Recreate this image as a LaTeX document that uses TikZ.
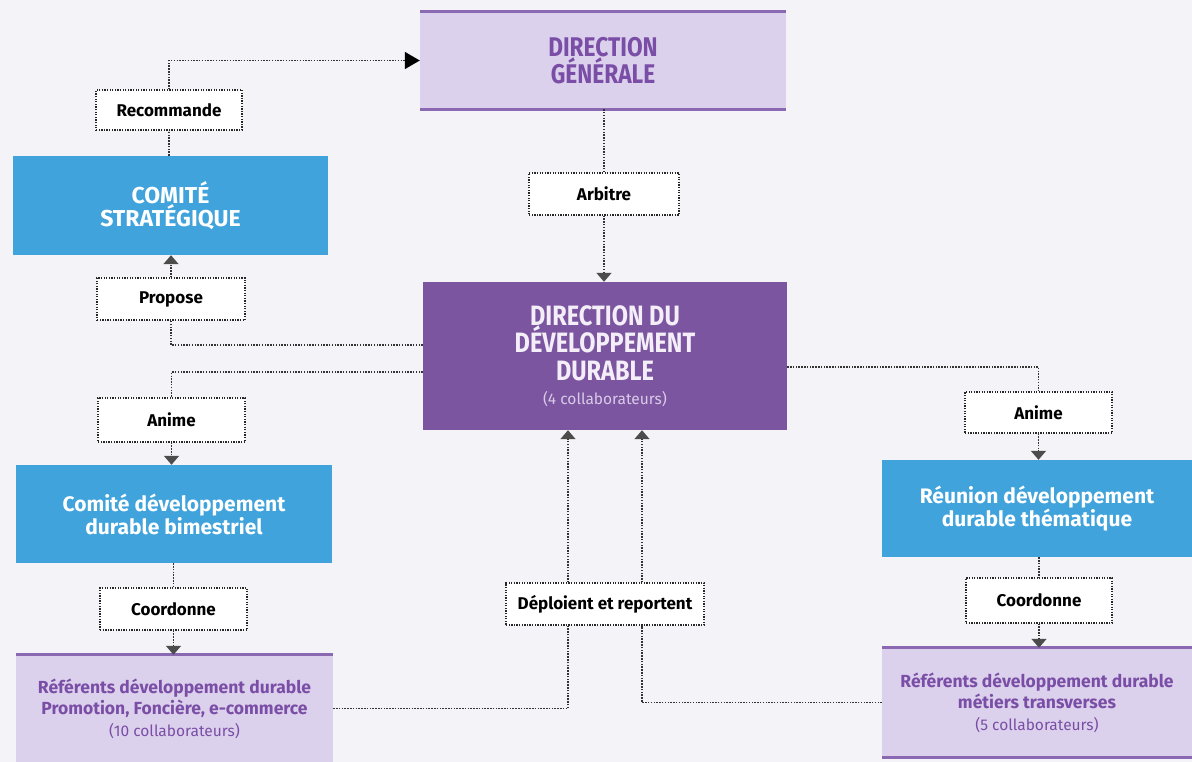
\documentclass[tikz,border=0pt]{standalone}
\usepackage{fontspec}
\setmainfont{Fira Sans}
\newfontfamily\capsfont{Fira Sans}[FakeStretch=0.84]
\usetikzlibrary{arrows.meta}

\definecolor{bgc}{HTML}{F4F3F7}
\definecolor{lav}{HTML}{DCD1EC}
\definecolor{lavline}{HTML}{8A68B2}
\definecolor{purp}{HTML}{7B559F}
\definecolor{purptext}{HTML}{7A4EA6}
\definecolor{blu}{HTML}{40A3DB}
\definecolor{paletext}{HTML}{F3EEF8}
\definecolor{smalltext}{HTML}{D9CAE8}

\tikzset{
  boxbase/.style={inner sep=0pt, align=center},
  bluebox/.style={boxbase, fill=blu, text=white},
  lavbox/.style={boxbase, fill=lav, text=purptext},
  darkbox/.style={boxbase, fill=purp, text=paletext},
  tag/.style={fill=white, draw=black!85, line width=1.2pt,
    dash pattern=on 1.3pt off 1.3pt, minimum width=147pt, minimum height=42pt,
    inner sep=0pt, font=\bfseries\fontsize{17}{19}\selectfont, text=black},
  conn/.style={draw=black!80, line width=1.6pt, dash pattern=on 1.5pt off 1.3pt},
  tip/.style={-{Triangle[length=9pt,width=15pt,fill=black!70,color=black!70]}},
  bigtip/.style={-{Triangle[length=15pt,width=17pt,fill=black,color=black]}},
  edge/.style={lavline, line width=3pt},
}

\begin{document}
\begin{tikzpicture}[x=1pt,y=-1pt]
  \fill[bgc] (0,0) rectangle (1192,762);
  \useasboundingbox (0,0) rectangle (1192,762);

  % top management
  \node[lavbox, minimum width=366pt, minimum height=97pt,
        font=\capsfont\bfseries\fontsize{27}{27}\selectfont] (dg) at (603,60.5) {DIRECTION\\GÉNÉRALE};
  \draw[edge] (dg.north west) -- (dg.north east);
  \draw[edge] (dg.south west) -- (dg.south east);

  % sustainability department
  \node[darkbox, minimum width=364pt, minimum height=148pt,
        font=\capsfont\bfseries\fontsize{28}{27.5}\selectfont] (ddd) at (605,356)
        {DIRECTION DU\\DÉVELOPPEMENT\\DURABLE\\[-3pt]{\normalfont\mdseries\fontsize{15.5}{17}\selectfont\color{smalltext}(4 collaborateurs)}};

  % left column
  \node[bluebox, minimum width=315pt, minimum height=99pt,
        font=\bfseries\fontsize{23}{23.5}\selectfont] (cs) at (170.5,205.5) {COMITÉ\\STRATÉGIQUE};
  \node[bluebox, minimum width=316pt, minimum height=98pt,
        font=\bfseries\fontsize{21}{23}\selectfont] (cd) at (174,514) {Comité développement\\durable bimestriel};
  \node[lavbox, minimum width=317pt, minimum height=107pt,
        font=\bfseries\fontsize{17.5}{21.5}\selectfont] (refl) at (174.5,708.5)
        {Référents développement durable\\Promotion, Foncière, e-commerce\\{\mdseries\fontsize{15.5}{19}\selectfont(10 collaborateurs)}};
  \draw[edge] (refl.north west) -- (refl.north east);

  % right column
  \node[bluebox, minimum width=310pt, minimum height=97pt,
        font=\bfseries\fontsize{21}{23}\selectfont] (reu) at (1037,508.5) {Réunion développement\\durable thématique};
  \node[lavbox, minimum width=310pt, minimum height=109pt,
        font=\bfseries\fontsize{17.5}{21.5}\selectfont] (refr) at (1037,702.5)
        {Référents développement durable\\métiers transverses\\{\mdseries\fontsize{15.5}{19}\selectfont(5 collaborateurs)}};
  \draw[edge] (refr.north west) -- (refr.north east);
  \draw[edge] (refr.south west) -- (refr.south east);

  % relation labels
  \node[tag, minimum width=146pt, minimum height=40pt] (reco) at (169,110) {Recommande};
  \node[tag, minimum width=150pt] (arb) at (604,194) {Arbitre};
  \node[tag, minimum width=148pt] (prop) at (171,299) {Propose};
  \node[tag, minimum height=44pt] (animl) at (171.5,420) {Anime};
  \node[tag] (coordl) at (173.5,609) {Coordonne};
  \node[tag, minimum width=198pt] (dep) at (605,604) {Déploient et reportent};
  \node[tag, minimum height=41pt] (animr) at (1038.5,412.5) {Anime};
  \node[tag, minimum width=146pt, minimum height=45pt] (coordr) at (1039,600.5) {Coordonne};

  % connectors
  \draw[conn] (cs.north -| reco) -- (reco.south);
  \draw[conn, bigtip] (reco.north) |- (dg.west);

  \draw[conn] (dg.south -| arb) -- (arb.north);
  \draw[conn, tip] (arb.south) -- (arb.south |- ddd.north);

  \draw[conn] ([yshift=11pt]ddd.west) -| (prop.south);
  \draw[conn, tip] (prop.north) -- (prop.north |- cs.south);

  \draw[conn] ([yshift=-16pt]ddd.west) -| (animl.north);
  \draw[conn, tip] (animl.south) -- (animl.south |- cd.north);

  \draw[conn] (cd.south -| coordl) -- (coordl.north);
  \draw[conn, tip] (coordl.south) -- (coordl.south |- refl.north);

  \draw[conn] (refl.east) -| ([xshift=-37pt]dep.south);
  \draw[conn, tip] ([xshift=-37pt]dep.north) -- ([xshift=-37pt]ddd.south);
  \draw[conn] (refr.west) -| ([xshift=37pt]dep.south);
  \draw[conn, tip] ([xshift=37pt]dep.north) -- ([xshift=37pt]ddd.south);

  \draw[conn] ([yshift=-11pt]ddd.east) -| (animr.north);
  \draw[conn, tip] (animr.south) -- (animr.south |- reu.north);
  \draw[conn] (reu.south -| coordr) -- (coordr.north);
  \draw[conn, tip] (coordr.south) -- (coordr.south |- refr.north);
\end{tikzpicture}
\end{document}
